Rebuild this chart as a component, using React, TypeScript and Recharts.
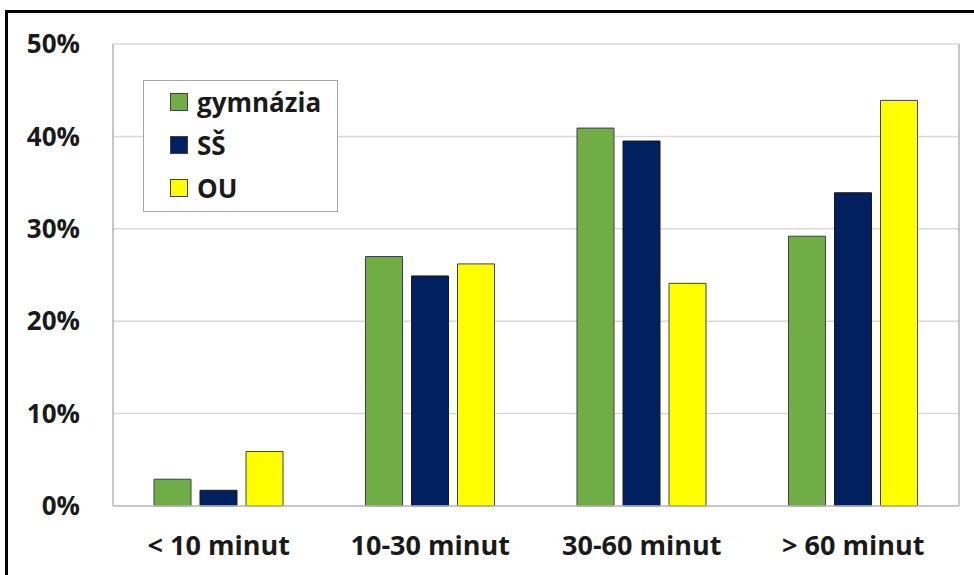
import React from 'react';
import { BarChart, Bar, XAxis, YAxis, CartesianGrid } from 'recharts';

const categories = ['< 10 minut', '10-30 minut', '30-60 minut', '> 60 minut'];
const gymnazia = [0.029, 0.27, 0.409, 0.292];
const ss = [0.017, 0.249, 0.395, 0.339];
const ou = [0.059, 0.262, 0.241, 0.439];
const yTicks = [0, 0.1, 0.2, 0.3, 0.4, 0.5];

const seriesNames = ['gymnázia', 'SŠ', 'OU'];
const colors = ['#70AD47', '#002060', '#FFFF00'];

const data = categories.map((c, i) => ({
  name: c,
  gymnazia: gymnazia[i],
  ss: ss[i],
  ou: ou[i],
}));

const FONT = '"Open Sans", sans-serif';

const LegendBox = () => (
  <div
    style={{
      position: 'absolute',
      left: 143,
      top: 80,
      width: 195,
      height: 132,
      border: '1px solid #a6a6a6',
      background: '#fff',
      boxSizing: 'border-box',
      fontFamily: FONT,
      fontWeight: 700,
      fontSize: 26,
      color: '#1a1a1a',
    }}
  >
    {seriesNames.map((n, i) => (
      <div
        key={n}
        style={{
          position: 'absolute',
          left: 26,
          top: 6 + i * 43,
          height: 30,
          display: 'flex',
          alignItems: 'center',
          whiteSpace: 'nowrap',
        }}
      >
        <span
          style={{
            display: 'inline-block',
            width: 16,
            height: 16,
            background: colors[i],
            border: '1px solid #404040',
            marginRight: 9,
          }}
        />
        <span style={{ lineHeight: '30px' }}>{n}</span>
      </div>
    ))}
  </div>
);

export default function App() {
  return (
    <div style={{ position: 'absolute', left: 0, top: 0, width: 974, height: 575, background: '#fff', overflow: 'hidden' }}>
      <div
        style={{
          position: 'absolute',
          left: 5,
          top: 10,
          width: 1000,
          height: 600,
          border: '3px solid #000',
        }}
      />
      <div style={{ position: 'absolute', left: 0, top: 0 }}>
        <BarChart
          width={974}
          height={575}
          data={data}
          margin={{ top: 44, right: 15, bottom: 0, left: 0 }}
          barSize={37}
          barGap={9}
        >
          <CartesianGrid vertical={false} stroke="#d9d9d9" strokeWidth={1.5} />
          <CartesianGrid
            horizontal={false}
            stroke="#b3b3b3"
            strokeWidth={1.5}
            verticalCoordinatesGenerator={({ offset }: any) => [offset.left, offset.left + offset.width]}
          />
          <XAxis
            dataKey="name"
            height={69}
            axisLine={{ stroke: '#bfbfbf', strokeWidth: 1.5 }}
            tickLine={false}
            tickSize={0}
            tickMargin={30}
            interval={0}
            tick={{ fill: '#1a1a1a', fontSize: 27, fontWeight: 700, fontFamily: FONT }}
          />
          <YAxis
            width={113}
            domain={[0, 0.5]}
            ticks={yTicks}
            tickFormatter={(v: number) => `${Math.round(v * 100)}%`}
            axisLine={false}
            tickLine={false}
            tickSize={0}
            tickMargin={33}
            tick={{ fill: '#1a1a1a', fontSize: 26, fontWeight: 700, fontFamily: FONT }}
          />
          <Bar dataKey="gymnazia" name={seriesNames[0]} fill={colors[0]} stroke="#404040" strokeWidth={1} isAnimationActive={false} />
          <Bar dataKey="ss" name={seriesNames[1]} fill={colors[1]} stroke="#1a1a1a" strokeWidth={1} isAnimationActive={false} />
          <Bar dataKey="ou" name={seriesNames[2]} fill={colors[2]} stroke="#404040" strokeWidth={1} isAnimationActive={false} />
        </BarChart>
      </div>
      <LegendBox />
    </div>
  );
}
